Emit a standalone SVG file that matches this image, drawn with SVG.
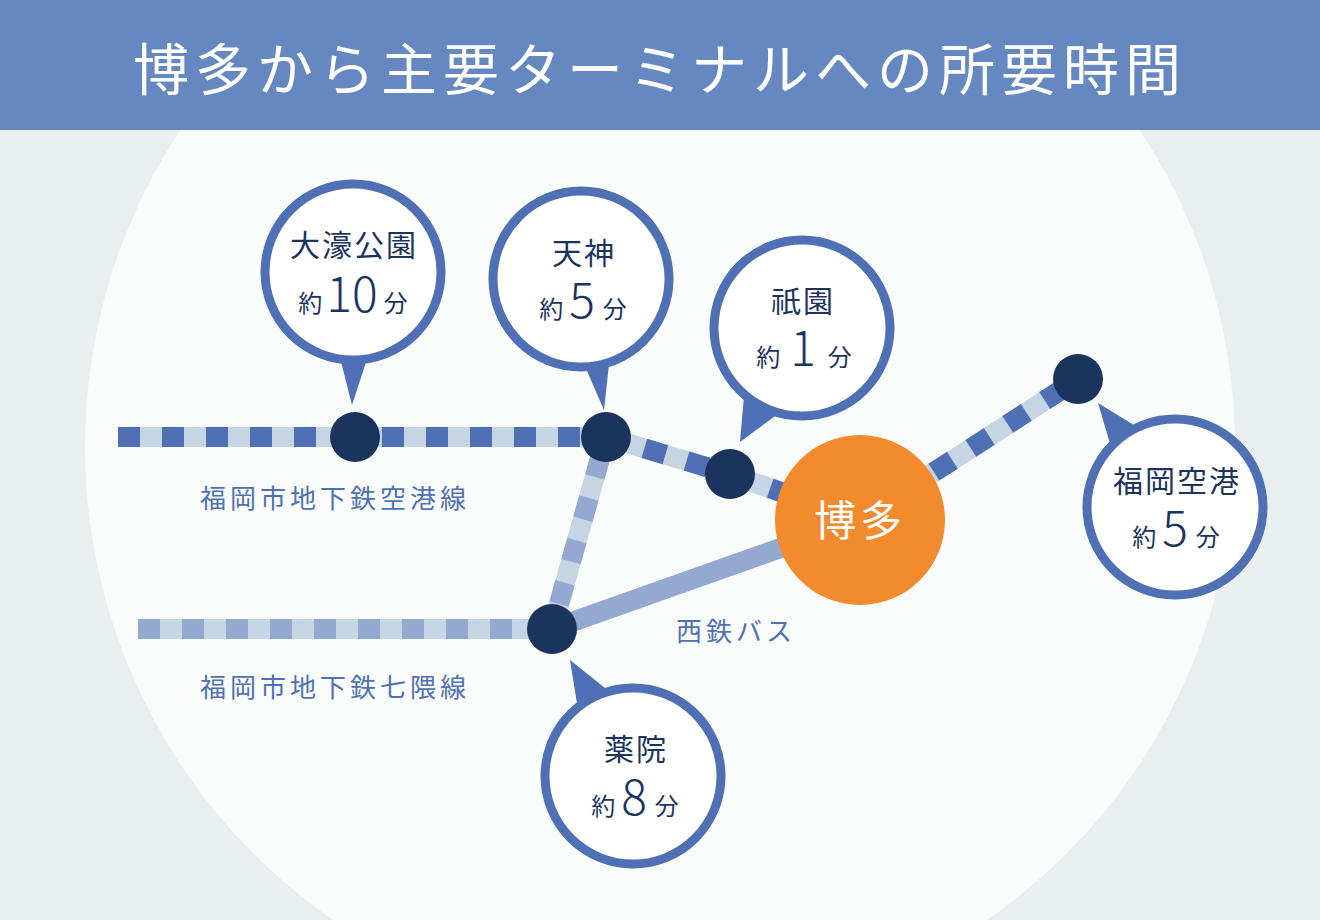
<svg xmlns="http://www.w3.org/2000/svg" width="1320" height="920" viewBox="0 0 1320 920">
<defs><style>
.f{font-family:"Noto Sans CJK JP","Noto Sans",sans-serif}
.lt{stroke:#c5d5e3;stroke-width:20;fill:none}
.dk{stroke:#4f70b4;stroke-width:20;fill:none;stroke-dasharray:22 22}
.md{stroke:#93a9d0;stroke-width:20;fill:none;stroke-dasharray:22 22}
.dot{fill:#1b345e}
.bal{fill:#fff;stroke:#4f70b4;stroke-width:9}
.ptr{fill:#4f70b4}
.nm{font-size:30px;fill:#1b345e;text-anchor:middle;letter-spacing:2px}
.sm{font-size:24px;fill:#1b345e}
.num{font-size:48px;fill:#1b345e;font-weight:300}
.lbl{font-size:26px;fill:#4f70b4;letter-spacing:4px}
</style></defs>
<rect width="1320" height="920" fill="#e9eff0"/>
<circle cx="660" cy="447" r="575" fill="#fafcfc"/>
<rect width="1320" height="130" fill="#6688c0"/>
<text class="f" x="660" y="90" font-size="56" fill="#fff" text-anchor="middle" letter-spacing="6">博多から主要ターミナルへの所要時間</text>
<g id="connectors">
<path class="lt" d="M118 437H606L730 474L860 520"/>
<path class="dk" d="M118 437H606L730 474L860 520"/>
<path class="lt" d="M860 520L1078 379"/>
<path class="dk" d="M860 520L1078 379"/>
<path class="lt" d="M138 629H552L606 437"/>
<path class="md" d="M138 629H552L606 437"/>
<path d="M552 629L860 520" stroke="#93a9d0" stroke-width="20"/>
</g>
<g id="stations">
<circle class="dot" cx="355" cy="437" r="25"/>
<circle class="dot" cx="606" cy="437" r="25"/>
<circle class="dot" cx="730" cy="474" r="25"/>
<circle class="dot" cx="1078" cy="379" r="25"/>
<circle class="dot" cx="552" cy="629" r="25"/>
</g>
<g id="hakata"><circle cx="860" cy="520" r="85" fill="#f28a2e"/><text class="f" x="860" y="536" font-size="42" fill="#fff" text-anchor="middle" letter-spacing="4">博多</text></g>
<g id="ohori">
<path class="ptr" d="M338 350L352 405L370 350Z"/>
<circle class="bal" cx="353" cy="272" r="88"/>
<text class="f nm" x="354" y="256">大濠公園</text>
<text class="f" x="353" y="312" text-anchor="middle"><tspan class="sm">約</tspan><tspan class="num" dx="4">10</tspan><tspan class="sm" dx="6">分</tspan></text>
</g>
<g id="tenjin">
<path class="ptr" d="M580 355L604 410L610 355Z"/>
<circle class="bal" cx="581" cy="279" r="88"/>
<text class="f nm" x="584" y="264">天神</text>
<text class="f" x="583" y="318" text-anchor="middle"><tspan class="sm">約</tspan><tspan class="num" dx="6">5</tspan><tspan class="sm" dx="8">分</tspan></text>
</g>
<g id="gion">
<path class="ptr" d="M745 385L740 442L790 405Z"/>
<circle class="bal" cx="802" cy="328" r="88"/>
<text class="f nm" x="803" y="312">祇園</text>
<text class="f" x="804" y="366" text-anchor="middle"><tspan class="sm">約</tspan><tspan class="num" dx="10">1</tspan><tspan class="sm" dx="12">分</tspan></text>
</g>
<g id="kuko">
<path class="ptr" d="M1098 403L1112 450L1142 430Z"/>
<circle class="bal" cx="1175" cy="507" r="88"/>
<text class="f nm" x="1177" y="492">福岡空港</text>
<text class="f" x="1176" y="546" text-anchor="middle"><tspan class="sm">約</tspan><tspan class="num" dx="6">5</tspan><tspan class="sm" dx="8">分</tspan></text>
</g>
<g id="yakuin">
<path class="ptr" d="M570 660L578 710L610 692Z"/>
<circle class="bal" cx="633" cy="776" r="88"/>
<text class="f nm" x="636" y="760">薬院</text>
<text class="f" x="635" y="815" text-anchor="middle"><tspan class="sm">約</tspan><tspan class="num" dx="6">8</tspan><tspan class="sm" dx="8">分</tspan></text>
</g>
<g id="labels">
<text class="f lbl" x="200" y="508">福岡市地下鉄空港線</text>
<text class="f lbl" x="200" y="697">福岡市地下鉄七隈線</text>
<text class="f lbl" x="676" y="641">西鉄バス</text>
</g>
</svg>
